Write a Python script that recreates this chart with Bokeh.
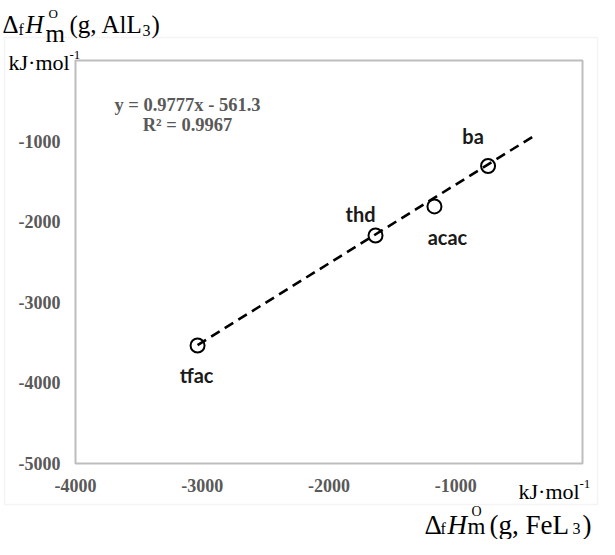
from bokeh.plotting import figure
from bokeh.models import Range1d, Label, BoxAnnotation, ColumnDataSource
from bokeh.embed import file_html
from bokeh.resources import INLINE

# ---- data ----
ligands = ["ba", "acac", "thd", "tfac"]
dfH_FeL3 = [-745, -1168, -1633, -3037]     # kJ/mol, x
dfH_AlL3 = [-1309, -1811, -2171, -3536]    # kJ/mol, y
fit_slope = 0.9777
fit_intercept = -561.3
fit_r2 = 0.9967
trend_x_end = -390
x_ticks = [-4000, -3000, -2000, -1000]
y_ticks = [-5000, -4000, -3000, -2000, -1000]
x_limits = (-4000, 0)
y_limits = (-5000, 0)

# ---- layout: plot box position inside the canvas (canvas px) ----
W, H = 599, 539
BOX_L, BOX_T, BOX_R, BOX_B = 75, 60, 582, 463
kx = (BOX_R - BOX_L) / (x_limits[1] - x_limits[0])
ky = (BOX_B - BOX_T) / (y_limits[1] - y_limits[0])
x_range = Range1d(x_limits[0] - BOX_L / kx, x_limits[1] + (W - BOX_R) / kx)
y_range = Range1d(y_limits[0] - (H - BOX_B) / ky, y_limits[1] + BOX_T / ky)

p = figure(frame_width=W, frame_height=H, output_backend="svg", toolbar_location=None,
           x_range=x_range, y_range=y_range, min_border=0,
           x_axis_location=None, y_axis_location=None)
p.grid.visible = False
p.outline_line_color = None
p.background_fill_color = "white"
p.border_fill_color = "white"

# outer chart-area border (screen px, origin bottom-left)
p.add_layout(BoxAnnotation(left=4, right=597, top=H - 37, bottom=H - 504,
                           left_units="screen", right_units="screen",
                           top_units="screen", bottom_units="screen",
                           fill_alpha=0, line_color="#d9d9d9", line_width=1.5,
                           level="underlay"))
# plot box
p.add_layout(BoxAnnotation(left=x_limits[0], right=x_limits[1],
                           bottom=y_limits[0], top=y_limits[1],
                           fill_alpha=0, line_color="#262626", line_width=2))

# tick labels
tick_style = dict(text_font={"value": "Liberation Serif"}, text_font_style="bold",
                  text_font_size="18px", text_color="#595959")
p.text(x=x_ticks, y=[y_limits[0]] * len(x_ticks), text=[str(t) for t in x_ticks],
       y_offset=22, text_align="center", text_baseline="middle", **tick_style)
p.text(x=[x_limits[0]] * len(y_ticks), y=y_ticks, text=[str(t) for t in y_ticks],
       x_offset=-15, text_align="right", text_baseline="middle", **tick_style)

# trendline
tx = [min(dfH_FeL3), trend_x_end]
ty = [fit_slope * v + fit_intercept for v in tx]
p.line(tx, ty, line_color="black", line_width=2.6, line_dash="10 6")

src = ColumnDataSource(dict(x=dfH_FeL3, y=dfH_AlL3, name=ligands))
p.scatter("x", "y", source=src, size=14, marker="circle", fill_color=None,
          line_color="black", line_width=2)

# point labels
label_offsets = {"ba": (-15, 30), "acac": (13, -31), "thd": (-15, 21), "tfac": (-1, -29)}
for name, xv, yv in zip(ligands, dfH_FeL3, dfH_AlL3):
    dx, dy = label_offsets[name]
    p.add_layout(Label(x=xv, y=yv, x_offset=dx, y_offset=dy, text=name,
                       text_font="Lato", text_font_style="bold", text_font_size="20px",
                       text_color="#1a1a1a", text_align="center", text_baseline="middle"))


def piece(text, cx, cy, size, font="Liberation Serif", style="normal", color="black", align="left"):
    # cx, cy: canvas px from top-left, cy = baseline
    p.add_layout(Label(x=cx, y=H - cy, x_units="screen", y_units="screen", text=text,
                       text_font=font, text_font_style=style, text_font_size=f"{size}px",
                       text_color=color, text_align=align, text_baseline="alphabetic"))


# regression equation
piece(f"y = {fit_slope}x - {abs(fit_intercept)}", 187, 104, 18.5, style="bold", color="#595959", align="center")
piece(f"R² = {fit_r2}", 187, 124, 18.5, style="bold", color="#595959", align="center")

# units
piece("kJ·mol", 8, 62, 22)
piece("-1", 69, 54, 13)
piece("kJ·mol", 518, 491, 22)
piece("-1", 579, 483, 13)

# top axis title  Δf H°m (g, AlL3)
piece("Δ", 2, 24, 25)
piece("f", 18, 29, 16)
piece("H", 25, 24, 25, style="italic")
piece("O", 48, 13, 13)
piece("m", 45, 33, 25)
piece("(g, AlL", 69, 24, 25)
piece("3", 142, 30, 16)
piece(")", 151, 24, 25)

# bottom axis title  Δf H°m (g, FeL3)
piece("Δ", 424, 524, 27)
piece("f", 440, 528, 16)
piece("H", 447, 524, 27, style="italic")
piece("O", 471, 511, 14)
piece("m", 467, 526, 23)
piece("(g, FeL", 489, 524, 27)
piece("3", 572, 528, 16)
piece(")", 582, 524, 27)

open("out.html", "w").write(file_html(p, INLINE))
